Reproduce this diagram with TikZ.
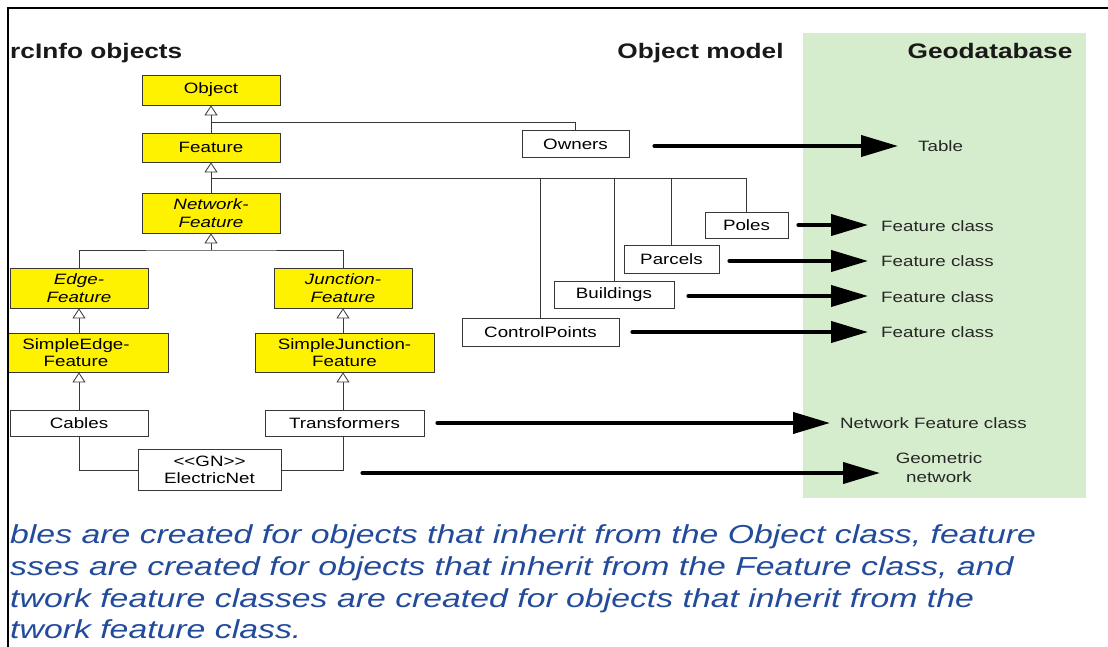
\documentclass[tikz,border=0pt]{standalone}
\usepackage{fontspec}
\setmainfont{Liberation Sans}[FakeStretch=1.25]
\newfontfamily\bottomfont{Liberation Sans}[FakeStretch=1.3]
\usetikzlibrary{arrows.meta,calc}
\definecolor{geogreen}{RGB}{213,237,204}
\definecolor{boxline}{RGB}{55,55,55}
\definecolor{noteblue}{RGB}{35,75,155}
\newcommand{\boxfont}{\fontsize{15}{17.5}\selectfont}
\newcommand{\headfont}{\fontsize{21}{24}\selectfont\bfseries}
\tikzset{
  ybox/.style={draw=boxline, fill=yellow, line width=0.8pt, inner sep=0pt, align=center, font=\boxfont},
  wbox/.style={draw=boxline, fill=white, line width=0.8pt, inner sep=0pt, align=center, font=\boxfont},
  conn/.style={draw=boxline, line width=0.8pt},
  inh/.style={conn, -{Triangle[length=10pt, width=13pt, fill=white]}},
  bigarrow/.style={line width=4pt, line cap=round, -{Triangle[length=37pt, width=21pt]}},
  lbl/.style={inner sep=0pt, anchor=west, font=\boxfont, text=black!85},
  head/.style={inner sep=0pt, font=\headfont, text=black!90},
  note/.style={inner sep=0pt, anchor=base west, text=noteblue, font=\bottomfont\itshape\fontsize{26}{31.7}\selectfont}
}
\begin{document}
\begin{tikzpicture}[x=1pt,y=-1pt]
\useasboundingbox (0,0) rectangle (1108,647);
\fill[white] (0,0) rectangle (1108,647);
% Geodatabase background
\fill[geogreen] (803,33) rectangle (1086,498);

% headers
\node[head, anchor=base west] (hArc) at (10,59) {rcInfo objects};
\node[head, anchor=base] (hObj) at (700.5,59) {Object model};
\node[head, anchor=base] (hGeo) at (990,59) {Geodatabase};

% yellow class boxes
\node[ybox, minimum width=138pt, minimum height=30pt] (object) at (211,90) {Object};
\node[ybox, minimum width=138pt, minimum height=29pt] (feature) at (211,147.5) {Feature};
\node[ybox, minimum width=138pt, minimum height=40pt] (netfeat) at (211,213) {\itshape Network-\\\itshape Feature};
\node[ybox, minimum width=138pt, minimum height=40pt] (edgefeat) at (79,288) {\itshape Edge-\\\itshape Feature};
\node[ybox, minimum width=138pt, minimum height=40pt] (juncfeat) at (343,288) {\itshape Junction-\\\itshape Feature};
\begin{scope}
  \clip (8.5,0) rectangle (300,647);
  \node[ybox, minimum width=184pt, minimum height=39pt] (simpleedge) at (76,352.5) {SimpleEdge-\\Feature};
\end{scope}
\node[ybox, minimum width=179pt, minimum height=39pt] (simplejunc) at (344.5,352.5) {SimpleJunction-\\Feature};

% white boxes
\node[wbox, minimum width=138pt, minimum height=26pt] (cables) at (79,423) {Cables};
\node[wbox, minimum width=159pt, minimum height=26pt] (transformers) at (344.5,423) {Transformers};
\node[wbox, minimum width=143pt, minimum height=41pt] (electricnet) at (209.5,470) {\mbox{<}\mbox{<}GN\mbox{>}\mbox{>}\\ElectricNet};
\node[wbox, minimum width=107pt, minimum height=27pt] (owners) at (575.5,144) {Owners};
\node[wbox, minimum width=83pt, minimum height=26pt] (poles) at (746.5,225) {Poles};
\node[wbox, minimum width=95pt, minimum height=28pt] (parcels) at (671.5,259) {Parcels};
\node[wbox, minimum width=120pt, minimum height=27pt] (buildings) at (614,294.5) {Buildings};
\node[wbox, minimum width=157pt, minimum height=28pt] (controlpoints) at (540.5,332) {ControlPoints};

% junction points
\coordinate (j1) at (211,122);
\coordinate (j2) at (211,178);
\coordinate (j3) at (211,250);

% inheritance connectors
\draw[inh] (feature.north) -- (object.south);
\draw[conn] (owners.north) |- (j1);
\draw[inh] (netfeat.north) -- (feature.south);
\draw[conn] (j2) -| (poles.north);
\draw[conn] (parcels.north) |- (j2);
\draw[conn] (buildings.north) |- (j2);
\draw[conn] (controlpoints.north) |- (j2);
\draw[inh] (j3) -- (netfeat.south);
\draw[conn] (edgefeat.north) |- (j3) -| (juncfeat.north);
\draw[inh] (edgefeat.south |- simpleedge.north) -- (edgefeat.south);
\draw[inh] (juncfeat.south |- simplejunc.north) -- (juncfeat.south);
\draw[inh] (cables.north) -- (cables.north |- simpleedge.south);
\draw[inh] (juncfeat.south |- transformers.north) -- (juncfeat.south |- simplejunc.south);
\draw[conn] (cables.south) |- (electricnet.west);
\draw[conn] (juncfeat.south |- transformers.south) |- (electricnet.east);

% geodatabase labels
\node[lbl] (table) at (918,146) {Table};
\node[lbl] (fc1) at (881,226) {Feature class};
\node[lbl] (fc2) at (881,261) {Feature class};
\node[lbl] (fc3) at (881,297) {Feature class};
\node[lbl] (fc4) at (881,332) {Feature class};
\node[lbl] (nfc) at (840,423) {Network Feature class};
\node[inner sep=0pt, align=center, font=\fontsize{15}{19}\selectfont, text=black!85] (geo) at (939,468) {Geometric\\network};

% mapping arrows
\draw[bigarrow] ([xshift=25pt,yshift=-2pt]owners.east) -- ([xshift=-20pt,yshift=-2pt]owners.east -| table.west);
\draw[bigarrow] ([xshift=10pt]poles.east) -- ([xshift=-13pt]poles.east -| fc1.west);
\draw[bigarrow] ([xshift=10pt,yshift=-2pt]parcels.east) -- ([xshift=-13pt,yshift=-2pt]parcels.east -| fc2.west);
\draw[bigarrow] ([xshift=14pt,yshift=-1.5pt]buildings.east) -- ([xshift=-13pt,yshift=-1.5pt]buildings.east -| fc3.west);
\draw[bigarrow] ([xshift=13pt]controlpoints.east) -- ([xshift=-13pt]controlpoints.east -| fc4.west);
\draw[bigarrow] ([xshift=13pt]transformers.east) -- ([xshift=-10pt]transformers.east -| nfc.west);
\draw[bigarrow] ([xshift=81pt,yshift=-3pt]electricnet.east) -- ([xshift=-59pt,yshift=-3pt]electricnet.east -| geo.center);

% explanatory text
\node[note] (n1) at (10,543) {bles are created for objects that inherit from the Object class, feature};
\node[note] (n2) at (10,575) {sses are created for objects that inherit from the Feature class, and};
\node[note] (n3) at (10,607) {twork feature classes are created for objects that inherit from the};
\node[note] (n4) at (10,638) {twork feature class.};

% frame
\draw[line width=2pt] (7.5,647) -- (7.5,8) -- (1108,8);
\end{tikzpicture}
\end{document}
